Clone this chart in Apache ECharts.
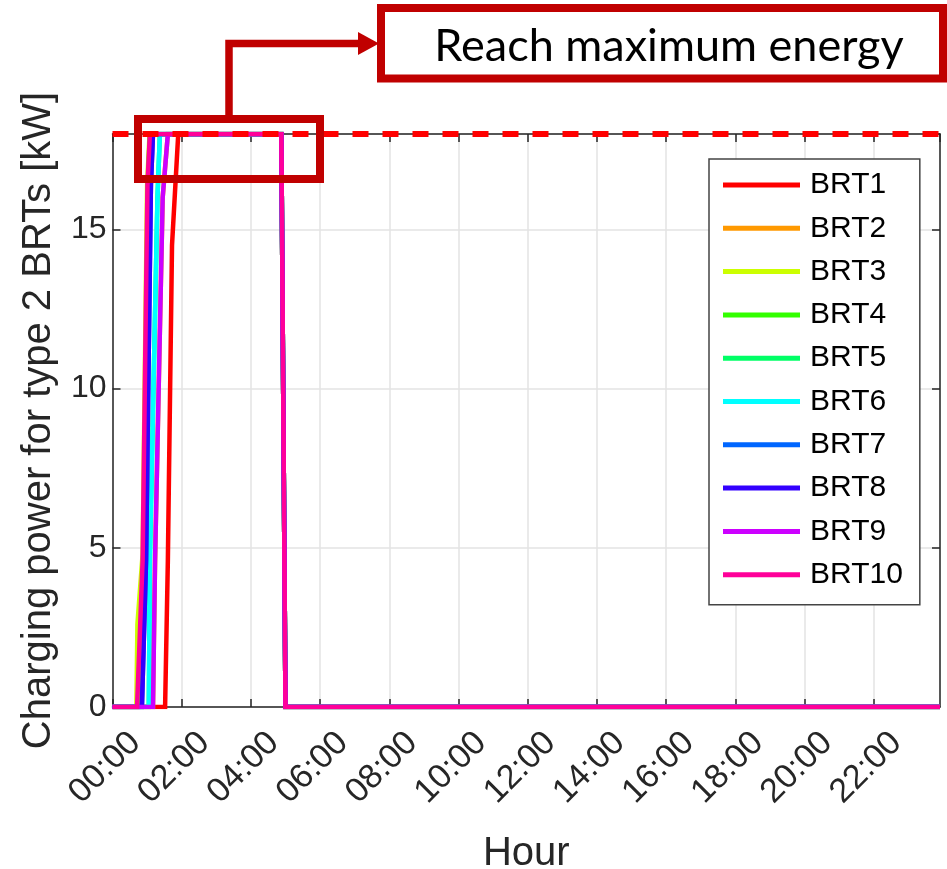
<!DOCTYPE html>
<html>
<head>
<meta charset="utf-8">
<script src="https://cdn.jsdelivr.net/npm/echarts@6/dist/echarts.min.js"></script>
<style>html,body{margin:0;padding:0;background:#fff}#c{width:947px;height:869px}</style>
</head>
<body>
<div id="c"></div>
<script>
// ---------- data ----------
const seriesNames = ['BRT1','BRT2','BRT3','BRT4','BRT5','BRT6','BRT7','BRT8','BRT9','BRT10'];
const xTickLabels = ['00:00','02:00','04:00','06:00','08:00','10:00','12:00','14:00','16:00','18:00','20:00','22:00'];
const hourEnd = 23.917;      // last sample (23:55)
const powerLimit = 18;       // maximum charging power [kW]

// breakpoints (hour, kW)
const brt1Time  = [0, 1.52, 1.60, 1.72, 1.90, 4.88, 5.00, 23.917];
const brt1Power = [0, 0,    4.6,  14.5, 18,   18,   0,    0];
const brt2Time  = [0, 1.17, 1.23, 1.45, 1.60, 4.88, 5.00, 23.917];
const brt2Power = [0, 0,    4.6,  16,   18,   18,   0,    0];
const brt3Time  = [0, 0.69, 0.72, 0.87, 1.00, 1.07, 4.88, 5.00, 23.917];
const brt3Power = [0, 0,    2.6,  4.8,  16.4, 18,   18,   0,    0];
const brt4Time  = [0, 0.75, 0.90, 1.02, 1.08, 4.88, 5.00, 23.917];
const brt4Power = [0, 0,    4.6,  16.4, 18,   18,   0,    0];
const brt5Time  = [0, 1.05, 1.08, 1.30, 1.37, 4.88, 5.00, 23.917];
const brt5Power = [0, 0,    4.6,  16,   18,   18,   0,    0];
const brt6Time  = [0, 1.05, 1.08, 1.30, 1.37, 4.88, 5.00, 23.917];
const brt6Power = [0, 0,    4.6,  16,   18,   18,   0,    0];
const brt7Time  = [0, 0.85, 0.97, 1.11, 1.17, 4.88, 5.00, 23.917];
const brt7Power = [0, 0,    4.6,  16.4, 18,   18,   0,    0];
const brt8Time  = [0, 0.85, 0.97, 1.11, 1.17, 4.88, 5.00, 23.917];
const brt8Power = [0, 0,    4.6,  16.4, 18,   18,   0,    0];
const brt9Time  = [0, 1.17, 1.23, 1.45, 1.60, 4.88, 5.00, 23.917];
const brt9Power = [0, 0,    4.6,  16,   18,   18,   0,    0];
const brt10Time  = [0, 0.71, 0.87, 1.01, 1.08, 4.88, 5.00, 23.917];
const brt10Power = [0, 0,    4.6,  16.4, 18,   18,   0,    0];

const allTimes  = [brt1Time,brt2Time,brt3Time,brt4Time,brt5Time,brt6Time,brt7Time,brt8Time,brt9Time,brt10Time];
const allPowers = [brt1Power,brt2Power,brt3Power,brt4Power,brt5Power,brt6Power,brt7Power,brt8Power,brt9Power,brt10Power];

// ---------- styles ----------
const colors = ['#ff0000','#ff9900','#ccff00','#33ff00','#00ff66','#00ffff','#0066ff','#3300ff','#cc00ff','#ff0099'];
const FONT = '"Liberation Sans", Arial, sans-serif';
const AX = '#262626';
const DARKRED = '#c00000';

const chart = echarts.init(document.getElementById('c'), null, {renderer: 'canvas'});

const series = seriesNames.map((n, i) => ({
  name: n,
  type: 'line',
  data: allTimes[i].map((t, j) => [t, allPowers[i][j]]),
  symbol: 'none',
  lineStyle: {color: colors[i], width: 4.5, cap: 'butt', join: 'miter'},
  itemStyle: {color: colors[i]},
  z: 2,
  animation: false
}));

series.push({
  name: 'limit',
  type: 'line',
  data: [[0, powerLimit], [hourEnd, powerLimit]],
  symbol: 'none',
  lineStyle: {color: '#ff0000', width: 6, type: [16, 14], cap: 'butt'},
  z: 4,
  animation: false,
  silent: true
});

const option = {
  backgroundColor: '#fff',
  animation: false,
  grid: {left: 112.5, right: 7, top: 134, bottom: 162, containLabel: false, outerBoundsMode: 'none'},
  legend: {
    data: seriesNames,
    orient: 'vertical',
    left: 709, top: 159,
    icon: 'rect',
    itemWidth: 77, itemHeight: 5, itemGap: 13.3,
    padding: [11, 17, 15, 14],
    borderColor: '#444', borderWidth: 1.5,
    backgroundColor: '#fff',
    textStyle: {fontFamily: FONT, fontSize: 30, color: '#000', lineHeight: 30, padding: [0, 0, 0, 5]},
    selectedMode: false
  },
  xAxis: [{
    type: 'value', min: 0, max: hourEnd, interval: 2,
    name: 'Hour', nameLocation: 'middle', nameGap: 127,
    nameTextStyle: {fontFamily: FONT, fontSize: 40, color: AX},
    axisLine: {show: true, onZero: false, lineStyle: {color: AX, width: 1.5}},
    axisTick: {show: true, inside: true, length: 8, lineStyle: {color: AX, width: 1.5}},
    splitLine: {show: true, lineStyle: {color: '#e3e3e3', width: 1.5}},
    axisLabel: {
      rotate: 45, margin: 8, verticalAlign: 'top', padding: [17, 0, 0, 0], lineHeight: 30,
      fontFamily: FONT, fontSize: 34, color: AX,
      showMinLabel: true, showMaxLabel: false, hideOverlap: false,
      formatter: v => { const k = Math.round(v / 2); return Math.abs(v - 2 * k) < 1e-6 && k < xTickLabels.length ? xTickLabels[k] : ''; }
    }
  }, {
    type: 'value', min: 0, max: hourEnd, interval: 2, position: 'top',
    axisLine: {show: true, onZero: false, lineStyle: {color: AX, width: 1.5}},
    axisTick: {show: true, inside: true, length: 8, lineStyle: {color: AX, width: 1.5}},
    axisLabel: {show: false}, splitLine: {show: false}
  }],
  yAxis: [{
    type: 'value', min: 0, max: powerLimit, interval: 5,
    name: 'Charging power for type 2 BRTs [kW]', nameLocation: 'middle', nameGap: 54,
    nameTextStyle: {fontFamily: FONT, fontSize: 40, color: AX},
    axisLine: {show: true, onZero: false, lineStyle: {color: AX, width: 1.5}},
    axisTick: {show: true, inside: true, length: 8, lineStyle: {color: AX, width: 1.5}},
    splitLine: {show: true, lineStyle: {color: '#e3e3e3', width: 1.5}},
    axisLabel: {
      margin: 6, fontFamily: FONT, fontSize: 32, color: AX, showMinLabel: true, showMaxLabel: false,
      formatter: v => (v % 5 === 0 ? String(v) : '')
    }
  }, {
    type: 'value', min: 0, max: powerLimit, interval: 5, position: 'right',
    axisLine: {show: true, onZero: false, lineStyle: {color: AX, width: 1.5}},
    axisTick: {show: true, inside: true, length: 8, lineStyle: {color: AX, width: 1.5}},
    axisLabel: {show: false}, splitLine: {show: false}
  }],
  series: series,
  graphic: [
    {type: 'rect', z: 100, shape: {x: 138, y: 119, width: 182, height: 60},
     style: {fill: 'none', stroke: DARKRED, lineWidth: 8}},
    {type: 'polyline', z: 100, shape: {points: [[229, 119], [229, 43.5], [362, 43.5]]},
     style: {fill: 'none', stroke: DARKRED, lineWidth: 7.5, lineJoin: 'miter'}},
    {type: 'polygon', z: 100, shape: {points: [[358, 32], [379, 43.5], [358, 55]]},
     style: {fill: DARKRED}},
    {type: 'rect', z: 100, shape: {x: 381, y: 8, width: 562, height: 70.5},
     style: {fill: '#fff', stroke: DARKRED, lineWidth: 8}},
    {type: 'text', z: 101, x: 669, y: 46,
     style: {text: 'Reach maximum energy', fontFamily: 'Lato, "Noto Sans", sans-serif', fontSize: 45,
             fill: '#000', align: 'center', verticalAlign: 'middle'}}
  ]
};
chart.setOption(option);
</script>
</body>
</html>
